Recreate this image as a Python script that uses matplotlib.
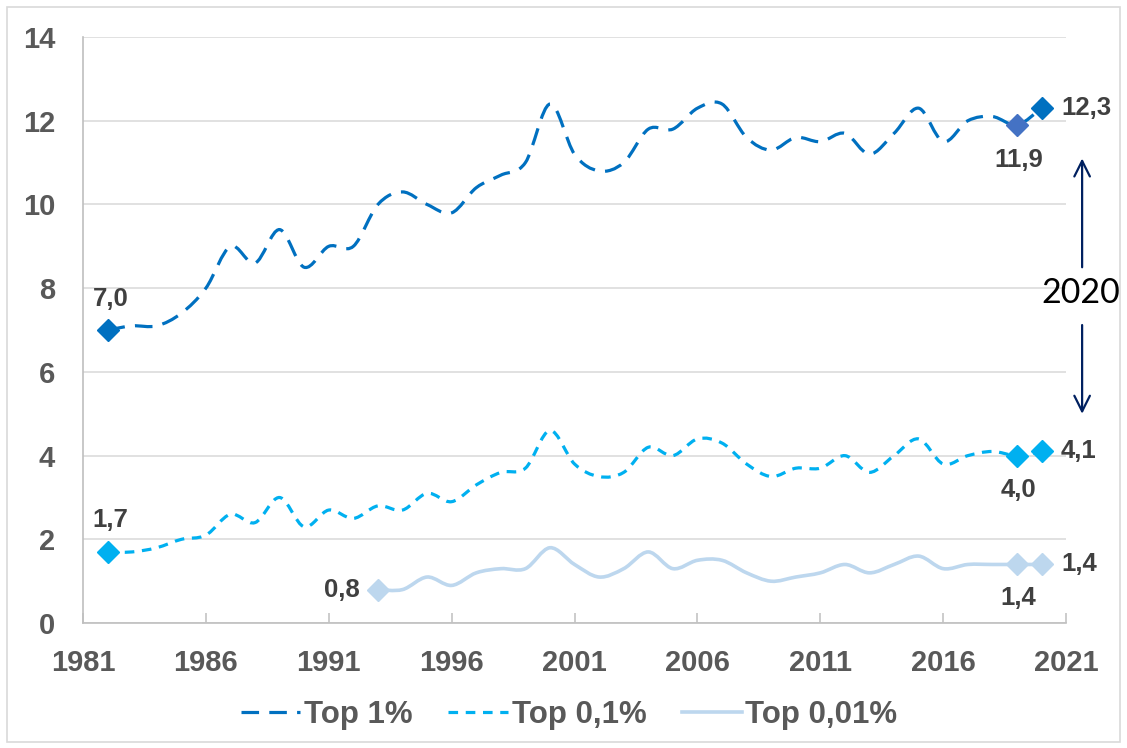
import matplotlib
matplotlib.use("Agg")
import matplotlib.pyplot as plt
from matplotlib.path import Path
from matplotlib.patches import PathPatch, Rectangle
from matplotlib.lines import Line2D

# data
years_top1 = list(range(1982, 2021))
top1 = [7.0, 7.1, 7.1, 7.4, 8.0, 9.0, 8.6, 9.4, 8.5, 9.0, 9.0, 10.0, 10.3,
        10.0, 9.8, 10.4, 10.7, 11.0, 12.4, 11.2, 10.8, 11.0, 11.8, 11.8,
        12.3, 12.4, 11.6, 11.3, 11.6, 11.5, 11.7, 11.2, 11.7, 12.3, 11.5,
        12.0, 12.1, 11.9, 12.3]

years_top01 = list(range(1982, 2021))
top01 = [1.7, 1.7, 1.8, 2.0, 2.1, 2.6, 2.4, 3.0, 2.3, 2.7, 2.5, 2.8, 2.7,
         3.1, 2.9, 3.3, 3.6, 3.7, 4.6, 3.8, 3.5, 3.6, 4.2, 4.0, 4.4, 4.3,
         3.8, 3.5, 3.7, 3.7, 4.0, 3.6, 4.0, 4.4, 3.8, 4.0, 4.1, 4.0, 4.1]

years_top001 = list(range(1993, 2021))
top001 = [0.8, 0.8, 1.1, 0.9, 1.2, 1.3, 1.3, 1.8, 1.4, 1.1, 1.3, 1.7, 1.3,
          1.5, 1.5, 1.2, 1.0, 1.1, 1.2, 1.4, 1.2, 1.4, 1.6, 1.3, 1.4, 1.4,
          1.4, 1.4]

series_names = ["Top 1%", "Top 0,1%", "Top 0,01%"]
x_ticks = list(range(1981, 2022, 5))
y_ticks = list(range(0, 15, 2))

C_TOP1 = "#0070C0"
C_TOP1_2019 = "#4472C4"
C_TOP01 = "#00B0F0"
C_TOP001 = "#BDD7EE"
C_LABEL = "#404040"
C_TICK = "#595959"
C_ARROW = "#002060"

plt.rcParams["font.family"] = ["Liberation Sans", "DejaVu Sans"]


def smooth_path(xs, ys):
    '''Excel-like smoothed line as cubic Bezier segments.'''
    n = len(xs)
    verts = [(xs[0], ys[0])]
    codes = [Path.MOVETO]
    for i in range(n - 1):
        i0 = max(i - 1, 0)
        i3 = min(i + 2, n - 1)
        c1 = (xs[i] + (xs[i + 1] - xs[i0]) / 6, ys[i] + (ys[i + 1] - ys[i0]) / 6)
        c2 = (xs[i + 1] - (xs[i3] - xs[i]) / 6, ys[i + 1] - (ys[i3] - ys[i]) / 6)
        verts += [c1, c2, (xs[i + 1], ys[i + 1])]
        codes += [Path.CURVE4] * 3
    return Path(verts, codes)


fig = plt.figure(figsize=(11.27, 7.48), dpi=100)
ax = fig.add_axes([0.0736, 0.167, 0.8724, 0.7835])

# 1: outer frame
fig.patches.append(Rectangle((0.006, 0.008), 0.988, 0.983, transform=fig.transFigure,
                             fill=False, edgecolor="#D9D9D9", linewidth=1.2))

# 2: smoothed lines
styles = [
    (years_top1, top1, C_TOP1, 2.3, (0, (5.5, 3.2))),
    (years_top01, top01, C_TOP01, 2.3, (0, (3.0, 2.4))),
    (years_top001, top001, C_TOP001, 2.6, "solid"),
]
handles = []
for (xs, ys, color, lw, ls), name in zip(styles, series_names):
    patch = PathPatch(smooth_path(xs, ys), fill=False, edgecolor=color,
                      linewidth=lw, linestyle=ls, zorder=3, capstyle="butt")
    ax.add_patch(patch)
    handles.append(Line2D([], [], color=color, linewidth=lw, linestyle=ls, label=name))

# 3: diamond markers at first year, 2019 and 2020
ms = 11
ax.plot(years_top1[0], top1[0], "D", color=C_TOP1, ms=ms, zorder=4)
ax.plot(years_top1[-2], top1[-2], "D", color=C_TOP1_2019, ms=ms, zorder=4)
ax.plot(years_top1[-1], top1[-1], "D", color=C_TOP1, ms=ms, zorder=4)
for xs, ys, color in [(years_top01, top01, C_TOP01), (years_top001, top001, C_TOP001)]:
    ax.plot([xs[0], xs[-2], xs[-1]], [ys[0], ys[-2], ys[-1]], "D",
            linestyle="none", color=color, ms=ms, zorder=4)


def fmt(v):
    return f"{v:.1f}".replace(".", ",")


def label(x, y, dx, dy, ha):
    ax.annotate(fmt(y), (x, y), xytext=(dx, dy), textcoords="offset points",
                ha=ha, va="center", fontsize=18.5, fontweight="bold",
                color=C_LABEL, annotation_clip=False)


# 4: data labels
label(years_top1[0], top1[0], 2, 22, "center")
label(years_top01[0], top01[0], 2, 23, "center")
label(years_top001[0], top001[0], -13, 0, "right")
label(years_top1[-2], top1[-2], 1, -25, "center")
label(years_top01[-2], top01[-2], 1, -25, "center")
label(years_top001[-2], top001[-2], 1, -24, "center")
for xs, ys in [(years_top1, top1), (years_top01, top01), (years_top001, top001)]:
    label(xs[-1], ys[-1], 14, 0, "left")

# 5: "2020" marker with arrows
ax.annotate("", xy=(2021.65, 11.1), xytext=(2021.65, 8.5),
            arrowprops=dict(arrowstyle="->", color=C_ARROW, lw=1.6,
                            mutation_scale=28, shrinkA=0, shrinkB=0),
            annotation_clip=False)
ax.annotate("", xy=(2021.65, 5.0), xytext=(2021.65, 7.12),
            arrowprops=dict(arrowstyle="->", color=C_ARROW, lw=1.6,
                            mutation_scale=28, shrinkA=0, shrinkB=0),
            annotation_clip=False)
ax.text(2021.6, 7.88, "2020", ha="center", va="center", fontsize=24.5,
        color="black", family=["Lato", "DejaVu Sans"], clip_on=False)

# 6: axes styling
ax.set_xlim(1981, 2021)
ax.set_ylim(0, 14)
ax.set_xticks(x_ticks)
ax.set_yticks(y_ticks)
ax.grid(axis="y", color="#D9D9D9", linewidth=1.1)
ax.set_axisbelow(True)
for side in ["top", "right"]:
    ax.spines[side].set_visible(False)
for side in ["left", "bottom"]:
    ax.spines[side].set_color("#BFBFBF")
    ax.spines[side].set_linewidth(1.2)
ax.tick_params(axis="x", direction="in", length=7, width=1.1, color="#BFBFBF",
               pad=19, labelsize=21, labelcolor=C_TICK)
ax.tick_params(axis="y", length=0, pad=20, labelsize=21, labelcolor=C_TICK)
for lab in ax.get_xticklabels() + ax.get_yticklabels():
    lab.set_fontweight("bold")

# 7: legend
leg = fig.legend(handles=handles, loc="center", bbox_to_anchor=(0.505, 0.044),
                 ncol=3, frameon=False, handlelength=1.9, handletextpad=0.12,
                 columnspacing=1.15, prop={"size": 22.5, "weight": "bold"})
for t in leg.get_texts():
    t.set_color(C_TICK)

plt.savefig("out.png", dpi=100)
plt.close(fig)
